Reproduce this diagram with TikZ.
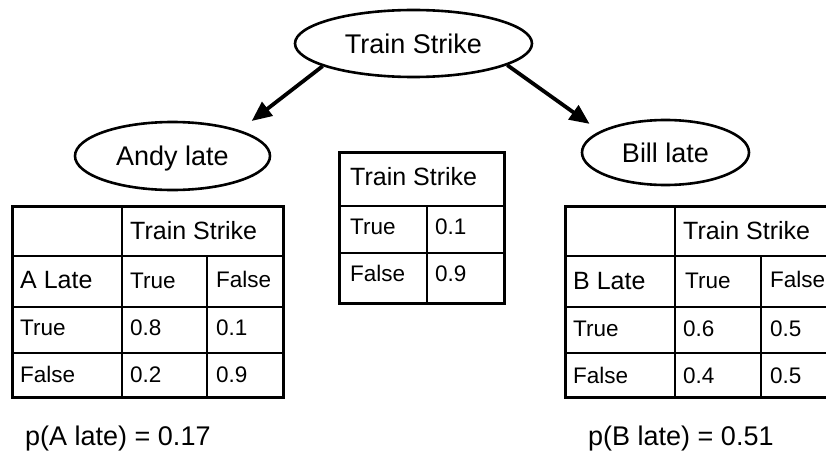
\documentclass[tikz,border=0pt]{standalone}
\usepackage{fontspec}
\setmainfont{Liberation Sans}
\usetikzlibrary{shapes.geometric,arrows.meta}
\tikzset{
  ell/.style={ellipse, draw, line width=2.6pt, inner sep=0pt,
    font=\fontsize{27}{30}\selectfont, text height=19.3pt, text depth=0pt},
  arr/.style={line width=3.8pt, -{Triangle[length=20pt,width=17pt]}},
  outer/.style={line width=3pt},
  inner/.style={line width=1.5pt},
  cellbase/.style={inner sep=0pt, anchor=west, text depth=0pt},
  hdr/.style={cellbase, font=\fontsize{25}{28}\selectfont, text height=17.9pt},
  cell/.style={cellbase, font=\fontsize{22.5}{26}\selectfont, text height=16.1pt},
  ptext/.style={cellbase, font=\fontsize{27}{30}\selectfont, text height=19.3pt}
}
\begin{document}
\begin{tikzpicture}[x=1pt,y=-1pt]
\useasboundingbox (0,0) rectangle (826,452);
\clip (0,0) rectangle (826,452);

% nodes
\node[ell, minimum width=237pt, minimum height=67pt] (ts) at (413.5,43.5) {Train Strike};
\node[ell, minimum width=195pt, minimum height=68pt] (andy) at (172.5,156) {Andy late};
\node[ell, minimum width=167pt, minimum height=65pt] (bill) at (665.5,152.5) {Bill late};

% arrows
\draw[arr, shorten >=15pt] (ts.194) -- (andy.21);
\draw[arr, shorten >=12.5pt] (ts.347) -- (bill.162.7);

% left table
\draw[inner] (12,256) -- (283,256) (12,307) -- (283,307) (12,353) -- (283,353);
\draw[inner] (122,206) -- (122,399) (207,256) -- (207,399);
\draw[outer] (12,206) rectangle (283,397);
\node[hdr] (lh) at (130,231) {Train Strike};
\node[hdr] (la) at (20,280) {A Late};
\node[cell] (lt) at (130,280.5) {True};
\node[cell] (lf) at (216,279) {False};
\node[cell] (lr1) at (20,327.5) {True};
\node[cell] (l11) at (130,327.5) {0.8};
\node[cell] (l12) at (216,327.5) {0.1};
\node[cell] (lr2) at (20,374) {False};
\node[cell] (l21) at (130,374) {0.2};
\node[cell] (l22) at (216,374) {0.9};

% middle table
\draw[inner] (339,206) -- (504,206) (339,253) -- (504,253);
\draw[inner] (427,206) -- (427,303);
\draw[outer] (339,152) rectangle (504,303);
\node[hdr] (mh) at (350,176.5) {Train Strike};
\node[cell] (mt) at (350,226.5) {True};
\node[cell] (mt1) at (435,226.5) {0.1};
\node[cell] (mf) at (350,273) {False};
\node[cell] (mf1) at (435,273) {0.9};

% right table
\draw[inner] (565,256) -- (840,256) (565,307) -- (840,307) (565,353) -- (840,353);
\draw[inner] (675,206) -- (675,399) (761,256) -- (761,399);
\draw[outer] (565,206) rectangle (840,397);
\node[hdr] (rh) at (683,231) {Train Strike};
\node[hdr] (rb) at (573,280.5) {B Late};
\node[cell] (rt) at (685,280.5) {True};
\node[cell] (rf) at (770,279) {False};
\node[cell] (rr1) at (573,328) {True};
\node[cell] (r11) at (683,328) {0.6};
\node[cell] (r12) at (770,328) {0.5};
\node[cell] (rr2) at (573,375) {False};
\node[cell] (r21) at (683,375) {0.4};
\node[cell] (r22) at (770,375) {0.5};

% probabilities
\node[ptext] (pa) at (25,436) {p(A late) = 0.17};
\node[ptext] (pb) at (588,436) {p(B late) = 0.51};
\end{tikzpicture}
\end{document}
